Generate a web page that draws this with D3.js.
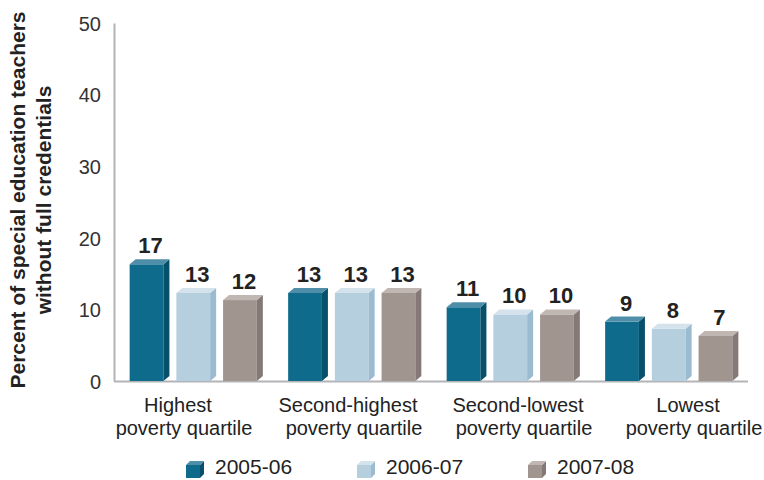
<!DOCTYPE html>
<html>
<head>
<meta charset="utf-8">
<script src="https://cdn.jsdelivr.net/npm/d3@7/dist/d3.min.js"></script>
<style>
  html, body { margin: 0; padding: 0; background: #fff; }
  svg { display: block; font-family: "Liberation Sans", Arial, sans-serif; }
</style>
</head>
<body>
<svg id="chart" width="764" height="480"></svg>
<script>
// Data
const categories = [
  ["Highest", "poverty quartile"],
  ["Second-highest", "poverty quartile"],
  ["Second-lowest", "poverty quartile"],
  ["Lowest", "poverty quartile"]
];
const seriesNames = ["2005-06", "2006-07", "2007-08"];
const values2005 = [17, 13, 11, 9];
const values2006 = [13, 13, 10, 8];
const values2007 = [12, 13, 10, 7];
const yTicks = [0, 10, 20, 30, 40, 50];

const seriesValues = [values2005, values2006, values2007];
const palette = [
  { front: "#0f6b8b", side: "#07506b", top: "#4f8ea8" },
  { front: "#b6cfdf", side: "#9bbbd0", top: "#d3e2eb" },
  { front: "#a0958f", side: "#847976", top: "#c0b7b2" }
];

const svg = d3.select("#chart");
const margin = { left: 114, right: 16, top: 23, bottom: 99 };
const W = 764, H = 480;
const x0 = margin.left, x1 = W - margin.right;
const yBase = H - margin.bottom;

const y = d3.scaleLinear().domain([0, 50]).range([yBase, margin.top]);
const xGroup = d3.scaleBand()
  .domain(categories.map((c, i) => i))
  .range([x0, x1]);
const xBar = d3.scaleBand()
  .domain(seriesNames)
  .range([0, xGroup.bandwidth()])
  .paddingInner(0.277)
  .paddingOuter(0.335);

const depthX = 6, depthY = 5;

// Y axis
const yAxis = d3.axisLeft(y).tickValues(yTicks).tickSize(0).tickPadding(13);
const gy = svg.append("g").attr("transform", `translate(${x0},0)`).call(yAxis);
gy.select(".domain").attr("stroke", "#b4b4b8").attr("stroke-width", 2);
gy.selectAll("text")
  .attr("font-size", 20)
  .attr("fill", "#333")
  .attr("font-family", "Liberation Sans, Arial, sans-serif")
  .attr("dy", "0.36em");

// Floor line
svg.append("line")
  .attr("x1", x0).attr("x2", x1)
  .attr("y1", yBase + 0.5).attr("y2", yBase + 0.5)
  .attr("stroke", "#b4b4b8").attr("stroke-width", 2);

// Bars with a shallow 3D look
const groups = svg.selectAll("g.grp")
  .data(categories.map((c, i) => i))
  .join("g")
  .attr("class", "grp")
  .attr("transform", i => `translate(${xGroup(i)},0)`);

groups.each(function (gi) {
  const g = d3.select(this);
  seriesNames.forEach((s, si) => {
    const v = seriesValues[si][gi];
    const bx = xBar(s);
    const bw = xBar.bandwidth();
    const yTop = y(v);
    const c = palette[si];
    const fy = yTop + depthY;
    // front face
    g.append("rect")
      .attr("x", bx).attr("y", fy)
      .attr("width", bw).attr("height", yBase - fy)
      .attr("fill", c.front);
    // side face
    g.append("path")
      .attr("d", `M${bx + bw},${fy} L${bx + bw + depthX},${yTop} L${bx + bw + depthX},${yBase - depthY} L${bx + bw},${yBase} Z`)
      .attr("fill", c.side);
    // top face
    g.append("path")
      .attr("d", `M${bx},${fy} L${bx + depthX},${yTop} L${bx + bw + depthX},${yTop} L${bx + bw},${fy} Z`)
      .attr("fill", c.top);
    // value label
    g.append("text")
      .attr("x", bx + bw / 2 + 4)
      .attr("y", yTop - 6)
      .attr("text-anchor", "middle")
      .attr("font-size", 22)
      .attr("font-weight", "bold")
      .attr("fill", "#222")
      .text(v);
  });
});

// Category labels
const xLabel = d3.scalePoint()
  .domain(categories.map((c, i) => i))
  .range([x0 + 70, x1 - 54]);
categories.forEach((lines, i) => {
  const t = svg.append("text")
    .attr("text-anchor", "middle")
    .attr("font-size", 20)
    .attr("fill", "#222");
  lines.forEach((ln, li) => {
    t.append("tspan")
      .attr("x", xLabel(i) + (li === 0 ? -6 : 0))
      .attr("y", 412 + li * 23)
      .text(ln);
  });
});

// Y axis title
const title = svg.append("text")
  .attr("transform", "translate(0,200) rotate(-90)")
  .attr("text-anchor", "middle")
  .attr("font-size", 21)
  .attr("font-weight", "bold")
  .attr("fill", "#222");
title.append("tspan").attr("x", 0).attr("y", 25).text("Percent of special education teachers");
title.append("tspan").attr("x", 0).attr("y", 51).text("without full credentials");

// Legend
const legendX = d3.scalePoint().domain(seriesNames).range([186, 528]);
seriesNames.forEach((s, si) => {
  const lx = legendX(s), ly = 461;
  const c = palette[si];
  const w = 14, h = 13, d = 4;
  const g = svg.append("g");
  g.append("rect").attr("x", lx).attr("y", ly + d).attr("width", w).attr("height", h).attr("fill", c.front);
  g.append("path").attr("d", `M${lx + w},${ly + d} L${lx + w + d},${ly} L${lx + w + d},${ly + h} L${lx + w},${ly + h + d} Z`).attr("fill", c.side);
  g.append("path").attr("d", `M${lx},${ly + d} L${lx + d},${ly} L${lx + w + d},${ly} L${lx + w},${ly + d} Z`).attr("fill", c.top);
  g.append("text")
    .attr("x", lx + 29)
    .attr("y", ly + 13)
    .attr("font-size", 21)
    .attr("fill", "#222")
    .text(s);
});
</script>
</body>
</html>
